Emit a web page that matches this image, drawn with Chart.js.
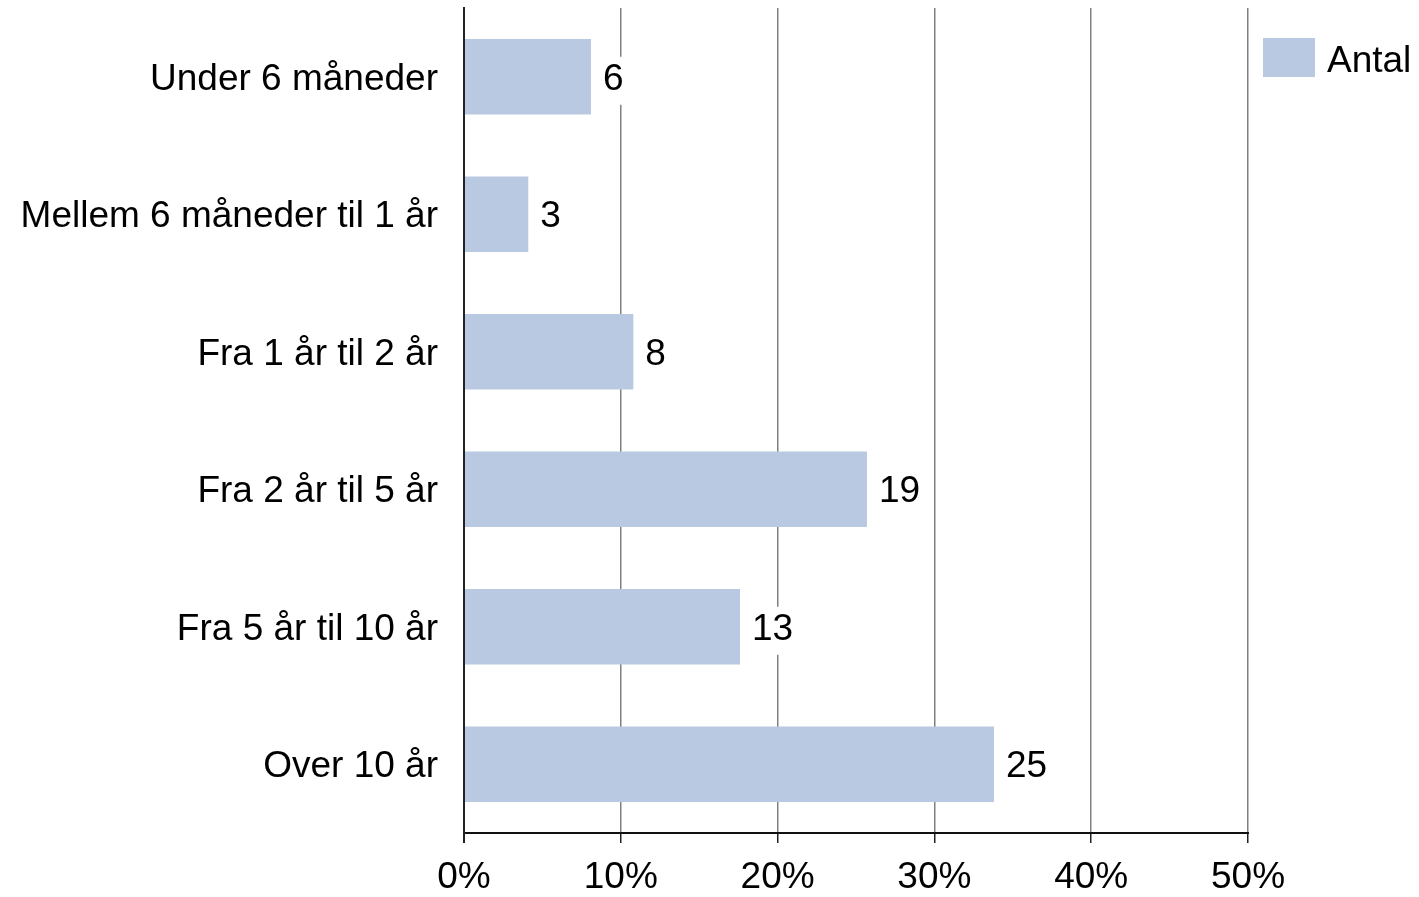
<!DOCTYPE html>
<html>
<head>
<meta charset="utf-8">
<script src="https://cdn.jsdelivr.net/npm/chart.js@4/dist/chart.umd.min.js"></script>
<style>
  html, body { margin: 0; padding: 0; background: #fff; }
  #wrap { width: 1419px; height: 897px; position: relative; }
</style>
</head>
<body>
<div id="wrap"><canvas id="grafico"></canvas></div>
<script>
// data
const kategorier = [
    'Under 6 måneder',
    'Mellem 6 måneder til 1 år',
    'Fra 1 år til 2 år',
    'Fra 2 år til 5 år',
    'Fra 5 år til 10 år',
    'Over 10 år'
];
const andel = [8.1, 4.1, 10.8, 25.7, 17.6, 33.8];   // percent, bar length
const antal = [6, 3, 8, 19, 13, 25];                 // labels shown at bar ends
const serieNavn = 'Antal';

const FONT = '"Liberation Sans", Arial, sans-serif';
const STR = 37;
const barFarve = '#B9C9E1';

// value labels with white backdrop, like the original
const etiketter = {
    id: 'etiketter',
    afterDatasetsDraw(chart) {
        const ctx = chart.ctx;
        const meta = chart.getDatasetMeta(0);
        ctx.save();
        ctx.font = STR + 'px ' + FONT;
        ctx.textBaseline = 'middle';
        ctx.textAlign = 'left';
        meta.data.forEach((bar, i) => {
            const txt = String(antal[i]);
            const w = ctx.measureText(txt).width;
            const x = bar.x + 12;
            ctx.fillStyle = '#fff';
            ctx.fillRect(x - 3, bar.y - 20, w + 6, 48);
            ctx.fillStyle = '#000';
            ctx.fillText(txt, x, bar.y + 3);
        });
        ctx.restore();
    }
};

// legend drawn in the right margin
const forklaring = {
    id: 'forklaring',
    afterDraw(chart) {
        const ctx = chart.ctx;
        ctx.save();
        ctx.fillStyle = barFarve;
        ctx.fillRect(1263, 38, 52, 39);
        ctx.fillStyle = '#000';
        ctx.font = STR + 'px ' + FONT;
        ctx.textBaseline = 'middle';
        ctx.textAlign = 'left';
        ctx.fillText(serieNavn, 1327, 62);
        ctx.restore();
    }
};

const canvas = document.getElementById('grafico');
const G1 = new Chart(canvas, {
    type: 'bar',
    data: {
        labels: kategorier,
        datasets: [{
            label: serieNavn,
            data: andel,
            backgroundColor: barFarve,
            borderWidth: 0,
            barPercentage: 0.55,
            categoryPercentage: 1
        }]
    },
    options: {
        indexAxis: 'y',
        responsive: true,
        maintainAspectRatio: false,
        animation: false,
        layout: { autoPadding: false, padding: { top: 8, right: 171, left: 0, bottom: 0 } },
        plugins: {
            legend: { display: false },
            tooltip: { enabled: false }
        },
        scales: {
            x: {
                min: 0,
                max: 50,
                ticks: {
                    stepSize: 10,
                    color: '#000',
                    font: { family: FONT, size: STR },
                    padding: 13,
                    maxRotation: 0,
                    callback: v => v + '%'
                },
                grid: {
                    color: ctx => ctx.index === 0 ? '#222' : '#808080',
                    lineWidth: ctx => ctx.index === 0 ? 2 : 1.5,
                    tickColor: '#222',
                    tickLength: 10,
                    drawTicks: true
                },
                border: { display: true, color: '#111', width: 2 },
                afterFit: s => { s.height = 64; }
            },
            y: {
                ticks: {
                    color: '#000',
                    font: { family: FONT, size: STR },
                    padding: 26,
                    labelOffset: 3
                },
                grid: { display: false, drawTicks: false },
                border: { display: true, color: '#222', width: 2 },
                afterFit: s => {
                    s.width = 464;
                    s.paddingTop = 0;
                    s.paddingBottom = 0;
                }
            }
        }
    },
    plugins: [etiketter, forklaring]
});
</script>
</body>
</html>
